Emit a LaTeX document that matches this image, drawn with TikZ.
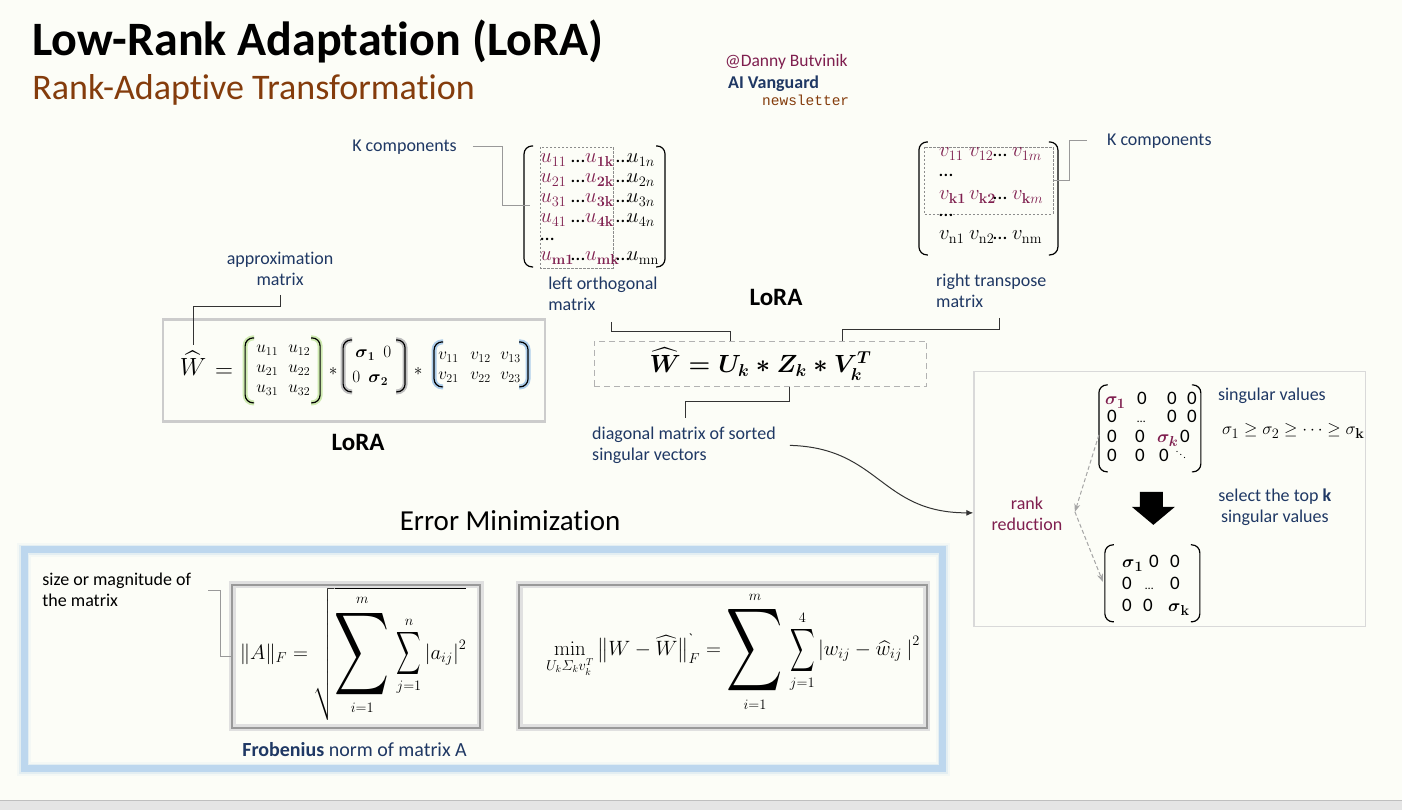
\documentclass[tikz,border=0pt]{standalone}
\usepackage[no-math]{fontspec}
\setmainfont[Ligatures=NoCommon]{Carlito}
\setmonofont{Liberation Mono}
\usepackage{amsmath,amssymb,graphicx}
\usetikzlibrary{arrows.meta,calc}
\definecolor{navy}{HTML}{1F3864}
\definecolor{wine}{HTML}{7F1F4F}
\definecolor{rust}{HTML}{843C0C}
\definecolor{paper}{HTML}{FCFDF7}
\definecolor{skyglow}{HTML}{BDD7EE}
\definecolor{leaf}{HTML}{92D050}
\definecolor{sky}{HTML}{5B9BD5}
\newcommand\fsz[2]{\fontsize{#1}{#2}\selectfont}
\newcommand\cell[2]{\makebox[#1][l]{$#2$}}
\newcommand\tcell[2]{\makebox[#1][l]{#2}}
\newcommand\wc[1]{{\color{wine}#1}}
\newcommand\hd{\text{…}}
\newcommand\bsig[1]{\boldsymbol{\sigma}_{\mathbf{#1}}}
\newcommand\bigsum[2]{\mathop{\vcenter{\hbox{\scalebox{#1}[#2]{$\displaystyle\sum$}}}}}
\newcommand\mbrackets[5]{%
  \draw[#1] (#2+9,#4) -- (#2,#4) -- (#2,#5) -- (#2+9,#5);
  \draw[#1] (#3-9,#4) -- (#3,#4) -- (#3,#5) -- (#3-9,#5);}
\newcommand\urow[4]{\cell{31pt}{\wc{u_{#1}}}\tcell{14pt}{…}\cell{31pt}{\wc{u_{#2}}}\tcell{11pt}{…}$u_{#3}$#4}
\begin{document}
\begin{tikzpicture}[x=1pt,y=-1pt,
  lbl/.style={text=navy, font=\fsz{18}{21}, align=center, inner sep=0pt},
  conn/.style={draw=black!80, line width=1pt},
  gconn/.style={draw=black!40, line width=1pt},
  mrow/.style={anchor=base west, inner sep=0pt, font=\fsz{20}{22}},
  srow/.style={anchor=base west, inner sep=0pt, font=\fsz{17}{20}},
  zrow/.style={anchor=base west, inner sep=0pt, font=\fsz{19}{22}},
  brk/.style={line width=1.2pt, rounded corners=8pt},
  dbox/.style={draw=black!45, dash pattern=on 2.5pt off 1.5pt, line width=0.8pt},
  dg/.style={draw=black!35, dash pattern=on 4pt off 2.5pt, line width=1pt, -{Stealth[length=8pt,width=6pt]}},
  fbox/.style={draw=black!40, line width=2.5pt, inner sep=0pt},
  fshadow/.style={draw=black!12, line width=7pt},
]
% background
\fill[paper] (0,0) rectangle (1402,810);
\fill[black!10] (0,800) rectangle (1402,810);
\draw[black!25] (0,800) -- (1402,800);

% titles
\node[anchor=base west, inner sep=0, font=\bfseries\fsz{48}{52}] (title) at (32,56) {Low-Rank Adaptation (LoRA)};
\node[anchor=base west, inner sep=0, text=rust, font=\fsz{36}{40}] (subtitle) at (32,100) {Rank-Adaptive Transformation};
\node[anchor=base west, inner sep=0, text=wine, font=\fsz{17.5}{19}] (author) at (725,67) {@Danny Butvinik};
\node[anchor=base west, inner sep=0, text=navy, font=\bfseries\fsz{18}{20}] (ai) at (728,89) {AI Vanguard};
\node[anchor=base west, inner sep=0, text=rust, font=\ttfamily\fsz{14.5}{16}] (news) at (762,106) {newsletter};

% ---------- U matrix ----------
\mbrackets{brk}{524}{665}{146}{267}
\draw[dbox] (540,147) rectangle (613,268);
\node[mrow] (ur1) at (540,163) {\urow{11}{\mathbf{1k}}{1n}{}};
\node[mrow] (ur2) at (540,183) {\urow{21}{\mathbf{2k}}{2n}{}};
\node[mrow] (ur3) at (540,203) {\urow{31}{\mathbf{3k}}{3n}{}};
\node[mrow] (ur4) at (540,223) {\urow{41}{\mathbf{4k}}{4n}{}};
\node[mrow] (ur5) at (540,241) {$\hd$};
\node[mrow] (ur6) at (540,261) {\urow{\mathbf{m1}}{\mathbf{mk}}{\mathrm{mn}}{}};
\coordinate (ukc) at (530,206);
\node[lbl, anchor=west] (kleft) at (352,147) {K components};
\draw[gconn] ($(kleft.east)+(16,0)$) -| ($(ukc)+(-28,0)$) -- (ukc);
\node[lbl, align=left, anchor=west] (leftorth) at (548,293.5) {left orthogonal\\matrix};

% ---------- V matrix ----------
\mbrackets{brk}{919}{1058}{142}{255}
\draw[dbox] (924,147) rectangle (1053,214);
\node[mrow] (vr1) at (939,157) {\cell{30pt}{\wc{v_{11}}}\cell{24pt}{\wc{v_{12}}}\cell{19pt}{\hd}\wc{$v_{1m}$}};
\node[mrow] (vr2) at (939,177) {$\hd$};
\node[mrow] (vr3) at (939,200) {\cell{30pt}{\wc{v_{\mathbf{k1}}}}\cell{24pt}{\wc{v_{\mathbf{k2}}}}\cell{19pt}{\hd}\wc{$v_{\mathbf{k}m}$}};
\node[mrow] (vr4) at (939,217) {$\hd$};
\node[mrow] (vr5) at (939,240) {\cell{30pt}{v_{\mathrm{n1}}}\cell{24pt}{v_{\mathrm{n2}}}\cell{19pt}{\hd}$v_{\mathrm{nm}}$};
\coordinate (vkc) at (1054,181);
\node[lbl, anchor=west] (kright) at (1107,141) {K components};
\draw[gconn] ($(kright.west)+(-20,0)$) -| ($(vkc)+(16,0)$) -- (vkc);
\node[lbl, align=left, anchor=west] (righttr) at (936,290.5) {right transpose\\matrix};

% ---------- central equation ----------
\node[inner sep=0, font=\bfseries\fsz{25}{30}] (lora1) at (776,298) {LoRA};
\node[draw=black!30, dash pattern=on 6pt off 4pt, line width=1pt, minimum width=333pt, minimum height=45pt, inner sep=0, font=\fsz{25}{30}] (eqbox) at (760.5,364) {{\boldmath$\widehat{W} = U_k \ast Z_k \ast V_k^T$}};
\coordinate (lo1) at (611,322);
\draw[conn] (lo1) -- ++(0,10) -| ($(eqbox.north)+(-30.5,0)$);
\coordinate (rt1) at (1000,318);
\draw[conn] (rt1) -- ++(0,12) -| ($(eqbox.north)+(82.5,0)$);
\coordinate (dg1) at (685,418);
\draw[conn] ($(eqbox.south)+(29.5,0)$) -- ++(0,15) -| (dg1);
\node[lbl, align=left, anchor=west] (diag) at (592,445.5) {diagonal matrix of sorted\\singular vectors};

% ---------- left LoRA box ----------
\node[draw=black!20, line width=2.5pt, minimum width=382pt, minimum height=102pt, inner sep=0] (lbox) at (354,370.5) {};
\node[anchor=base, inner sep=0, font=\fsz{27}{30}] (What) at (193,376) {$\widehat{W}$};
\node[anchor=base, inner sep=0, font=\fsz{27}{30}] (eqs) at (224,378) {$=$};
% green matrix
\mbrackets{brk, draw=leaf!45, line width=5pt}{245}{320}{338}{403}
\mbrackets{brk}{245}{320}{338}{403}
\node[srow] (a1) at (256,353) {\cell{32pt}{u_{11}}$u_{12}$};
\node[srow] (a2) at (256,373) {\cell{32pt}{u_{21}}$u_{22}$};
\node[srow] (a3) at (256,393) {\cell{32pt}{u_{31}}$u_{32}$};
\node[inner sep=0, font=\fsz{18}{20}] (ast1) at (333,372) {$\ast$};
% sigma matrix
\mbrackets{brk, draw=black!25, line width=5pt}{343}{405}{340}{392}
\mbrackets{brk}{343}{405}{340}{392}
\node[srow, font=\fsz{18}{20}] (b1) at (355,358) {\cell{28pt}{\bsig1}$0$};
\node[srow, font=\fsz{18}{20}] (b2) at (352,383) {\cell{16pt}{0}$\bsig2$};
\node[inner sep=0, font=\fsz{18}{20}] (ast2) at (418,372) {$\ast$};
% blue matrix
\mbrackets{brk, draw=sky!50, line width=5pt}{434}{528}{342}{387}
\mbrackets{brk}{434}{528}{342}{387}
\node[srow] (c1) at (438,360) {\cell{32pt}{v_{11}}\cell{30pt}{v_{12}}$v_{13}$};
\node[srow] (c2) at (438,380) {\cell{32pt}{v_{21}}\cell{30pt}{v_{22}}$v_{23}$};
\node[lbl] (approx) at (280,268.5) {approximation\\matrix};
\coordinate (ap1) at (280,295);
\draw[conn] (ap1) -- ++(0,12) -| ($(What.north)+(0,-6)$);
\node[inner sep=0, font=\bfseries\fsz{25}{30}] (lora2) at (358,443) {LoRA};

% ---------- right box ----------
\node[draw=black!15, line width=1.2pt, minimum width=392pt, minimum height=255pt, inner sep=0] (rbox) at (1170,499.5) {};
\mbrackets{brk}{1099}{1201}{385}{472}
\node[zrow] (t1) at (1105,405) {\tcell{32pt}{\wc{$\boldsymbol{\sigma_1}$}}\tcell{30pt}{0}\tcell{20pt}{0}0};
\node[zrow] (t2) at (1107,423) {\tcell{30pt}{0}\tcell{30pt}{\fsz{12}{14}…}\tcell{20pt}{0}0};
\node[zrow] (t3) at (1107,443) {\tcell{28pt}{0}\tcell{22pt}{0}\tcell{23pt}{\wc{$\boldsymbol{\sigma_k}$}}0};
\node[zrow] (t4) at (1107,462) {\tcell{28pt}{0}\tcell{24pt}{0}0};
\node[inner sep=0, font=\fsz{10}{12}] (tdd) at (1181,452) {$\ddots$};
\node[lbl, anchor=west] (singv) at (1218,396) {singular values};
\node[anchor=base west, inner sep=0, font=\fsz{19}{21}] (ineq) at (1222,435) {$\sigma_1 \geq \sigma_2 \geq \cdots \geq \sigma_{\mathbf{k}}$};
\fill (1140,492) -- (1163,492) -- (1163,507) -- (1175,507) -- (1153.5,525) -- (1132,507) -- (1140,507) -- cycle;
\node[lbl] (select) at (1275,507) {select the top \textbf{k}\\singular values};
\node[lbl, text=wine] (rankred) at (1027,513.5) {rank\\reduction};
\mbrackets{brk}{1105}{1200}{545}{622}
\node[zrow] (s1) at (1122,568) {\tcell{27pt}{$\bsig1$}\tcell{21pt}{0}0};
\node[zrow] (s2) at (1122,590) {\tcell{23pt}{0}\tcell{25pt}{\fsz{12}{14}…}0};
\node[zrow] (s3) at (1122,612) {\tcell{21pt}{0}\tcell{25pt}{0}$\bsig{k}$};
\coordinate (tm1) at (1099,435);
\coordinate (rv) at (1075,512);
\coordinate (bm1) at (1103,582);
\draw[dg] (tm1) -- (rv);
\draw[dg] (rv) -- (bm1);
\draw[conn, -{Latex[length=7pt,width=6pt]}] ($(diag.east)+(14,0)$) .. controls (880,448) and (880,513) .. ($(rbox.west)+(0,13.5)$);

% ---------- Error minimization ----------
\node[inner sep=0, font=\fsz{29}{34}] (errmin) at (510,521) {Error Minimization};
\foreach \w/\o in {14/0.12, 10/0.3, 7/1} \draw[skyglow, opacity=\o, line width=\w pt] (24,550) rectangle (943,769);
\draw[fshadow] (232,585) rectangle (480,728);
\node[fbox, minimum width=248pt, minimum height=143pt] (box1) at (356,656.5) {};
\draw[fshadow] (519,585) rectangle (927,728);
\node[fbox, minimum width=408pt, minimum height=143pt] (box2) at (723,656.5) {};
\node[inner sep=0, font=\fsz{20}{24}] (f1) at (353,654) {$\|A\|_F = \sqrt{\bigsum{1.9}{2.9}\limits_{i=1}^{m}\,\bigsum{0.85}{1.5}\limits_{j=1}^{n}\left|a_{ij}\right|^2}$};
\node[inner sep=0, font=\fsz{20}{24}] (f2) at (733,652) {$\min\limits_{U_k\varSigma_k v_k^T}\big\|W-\widehat{W}\big\|^{\text{\textasciigrave}}_{F} = \bigsum{1.95}{2.9}\limits_{i=1}^{m}\,\bigsum{0.85}{1.5}\limits_{j=1}^{4}\left|w_{ij}-\widehat{w}_{ij}\ \right|^2$};
\node[lbl, text=black, align=left, anchor=west] (sizemag) at (42,590) {size or magnitude of\\the matrix};
\coordinate (sm1) at (208,591);
\draw[gconn] (sm1) -- ++(12,0) |- (box1.west);
\node[lbl, font=\fsz{20}{24}, anchor=west] (frob) at (242,750) {\textbf{Frobenius} norm of matrix A};
\end{tikzpicture}
\end{document}
